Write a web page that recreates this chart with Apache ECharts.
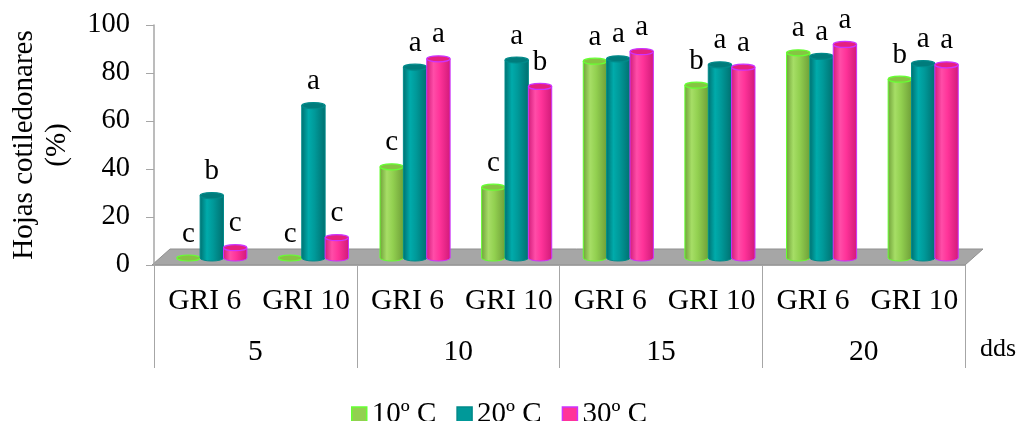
<!DOCTYPE html>
<html>
<head>
<meta charset="utf-8">
<script src="https://cdn.jsdelivr.net/npm/echarts@6/dist/echarts.min.js"></script>
<style>
html,body{margin:0;padding:0;background:#fff;}
#chart{width:1019px;height:421px;}
</style>
</head>
<body>
<div id="chart"></div>
<script>
// ---- data ----
const groups = ['5', '10', '15', '20'];
const subCategories = ['GRI 6', 'GRI 10', 'GRI 6', 'GRI 10', 'GRI 6', 'GRI 10', 'GRI 6', 'GRI 10'];
const seriesNames = ['10º C', '20º C', '30º C'];
const values10 = [0, 0, 38, 29.5, 82, 72, 85.5, 74.5];
const values20 = [26, 63.5, 79.5, 82.5, 83, 80.5, 84, 81];
const values30 = [4.3, 8.5, 83, 71.5, 86, 79.5, 89, 80.5];
const letters10 = ['c', 'c', 'c', 'c', 'a', 'b', 'a', 'b'];
const letters20 = ['b', 'a', 'a', 'a', 'a', 'a', 'a', 'a'];
const letters30 = ['c', 'c', 'a', 'b', 'a', 'a', 'a', 'a'];
const yMin = 0, yMax = 100, yInterval = 20;
const xAxisTitle = 'dds';
const yAxisTitle = 'Hojas cotiledonares\n(%)';

// ---- style ----
const FONT = '"Liberation Serif", "Times New Roman", serif';
const palettes = [
  {flat: '#92D050', edge: '#6E9E38', light: '#A6DE66', mid: '#92D050', top: '#86C443', stroke: '#66FF33'},
  {flat: '#009999', edge: '#006F6F', light: '#00ABAB', mid: '#009999', top: '#007C7C', stroke: '#008A8A'},
  {flat: '#FF3399', edge: '#D01A78', light: '#FF4DA8', mid: '#FF3399', top: '#E5207F', stroke: '#CC33FF'}
];
const G = {left: 152, right: 54, top: 25, bottom: 156};
const DX = 9, DY = 7; // depth offset of the bars (3D look)
const DEPTH_X = 18, DEPTH_Y = 16;

function makeRender(s, letters) {
  const pal = palettes[s];
  return function (params, api) {
    const i = api.value(0), v = api.value(1);
    const top = api.coord([i, v]);
    const base = api.coord([i, 0]);
    const band = api.size([1, 0])[0];
    const w = band * 0.23;
    const rx = w / 2, ry = 3;
    const cx = top[0] + (s - 1) * w;
    const x0 = cx - rx, x1 = cx + rx;
    const grad = new echarts.graphic.LinearGradient(0, 0, 1, 0, [
      {offset: 0, color: pal.edge},
      {offset: 0.3, color: pal.light},
      {offset: 0.55, color: pal.mid},
      {offset: 1, color: pal.edge}
    ]);
    const body = 'M' + x0 + ' ' + top[1] + ' L' + x0 + ' ' + base[1] +
      ' A' + rx + ' ' + ry + ' 0 0 0 ' + x1 + ' ' + base[1] +
      ' L' + x1 + ' ' + top[1] + ' Z';
    const cap = 'M' + x0 + ' ' + top[1] +
      ' A' + rx + ' ' + ry + ' 0 1 0 ' + x1 + ' ' + top[1] +
      ' A' + rx + ' ' + ry + ' 0 1 0 ' + x0 + ' ' + top[1] + ' Z';
    const children = [];
    if (base[1] - top[1] > 0.5) {
      children.push({type: 'path', shape: {pathData: body}, style: {fill: grad, stroke: pal.stroke, lineWidth: 1}});
    }
    children.push({type: 'path', shape: {pathData: cap}, style: {fill: pal.top, stroke: pal.stroke, lineWidth: 1.2}});
    children.push({
      type: 'text', x: cx, y: top[1] - 24,
      style: {text: letters[params.dataIndex], fill: '#000', fontSize: 29, fontFamily: FONT,
        align: 'center', verticalAlign: 'middle', textAlign: 'center', textVerticalAlign: 'middle'}
    });
    return {type: 'group', children: children};
  };
}

const valueSets = [values10, values20, values30];
const letterSets = [letters10, letters20, letters30];

const chart = echarts.init(document.getElementById('chart'));
const option = {
  animation: false,
  textStyle: {fontFamily: FONT},
  grid: [
    {left: G.left, right: G.right, top: G.top, bottom: G.bottom},
    {left: G.left + DX, right: G.right - DX, top: G.top - DY, bottom: G.bottom + DY}
  ],
  legend: {
    left: 346, top: 395,
    itemWidth: 15, itemHeight: 15, itemGap: 20,
    icon: 'rect',
    textStyle: {fontSize: 29, fontFamily: FONT, color: '#000'},
    data: seriesNames.map((n, s) => ({
      name: n, icon: 'rect',
      itemStyle: {color: palettes[s].flat, borderColor: palettes[s].stroke, borderWidth: 1.5}
    }))
  },
  xAxis: [
    {
      gridIndex: 0, type: 'category', data: subCategories, position: 'bottom',
      axisLine: {show: true, lineStyle: {color: '#A6A6A6', width: 1}},
      axisTick: {show: false},
      axisLabel: {interval: 0, fontSize: 29.5, fontFamily: FONT, color: '#000', margin: 21}
    },
    {
      gridIndex: 0, type: 'category', data: groups, position: 'bottom',
      axisLine: {show: false},
      axisTick: {show: true, length: 103, lineStyle: {color: '#A6A6A6', width: 1}},
      axisLabel: {interval: 0, fontSize: 29.5, fontFamily: FONT, color: '#000', margin: 72}
    },
    {
      gridIndex: 1, type: 'category', data: subCategories.map((c, i) => String(i)), show: false
    }
  ],
  yAxis: [
    {
      gridIndex: 0, type: 'value', min: yMin, max: yMax, interval: yInterval,
      name: yAxisTitle, nameLocation: 'middle', nameRotate: 90, nameGap: 80,
      nameTextStyle: {fontSize: 29, fontFamily: FONT, color: '#000', lineHeight: 33},
      axisLine: {show: true, lineStyle: {color: '#A6A6A6', width: 1.5}},
      axisTick: {show: true, length: 8, lineStyle: {color: '#A6A6A6'}},
      splitLine: {show: false},
      axisLabel: {fontSize: 28.5, fontFamily: FONT, color: '#000', margin: 24}
    },
    {
      gridIndex: 1, type: 'value', min: yMin, max: yMax, interval: yInterval, show: false,
      splitLine: {show: false}
    }
  ],
  graphic: [
    {
      type: 'polygon', z: 0, silent: true,
      shape: {points: [
        [G.left, 421 - G.bottom],
        [1019 - G.right, 421 - G.bottom],
        [1019 - G.right + DEPTH_X, 421 - G.bottom - DEPTH_Y],
        [G.left + DEPTH_X, 421 - G.bottom - DEPTH_Y]
      ]},
      style: {fill: '#A6A6A6', stroke: '#8F8F8F', lineWidth: 1}
    },
    {
      type: 'text', left: 980, top: 336, z: 5,
      style: {text: xAxisTitle, fontSize: 26, fontFamily: FONT, fill: '#000'}
    }
  ],
  series: seriesNames.map((n, s) => ({
    name: n, type: 'custom', coordinateSystem: 'cartesian2d',
    xAxisIndex: 2, yAxisIndex: 1, z: 3 + s,
    itemStyle: {color: palettes[s].flat},
    encode: {x: 0, y: 1},
    renderItem: makeRender(s, letterSets[s]),
    data: valueSets[s].map((v, i) => [i, v])
  }))
};
chart.setOption(option);
</script>
</body>
</html>
